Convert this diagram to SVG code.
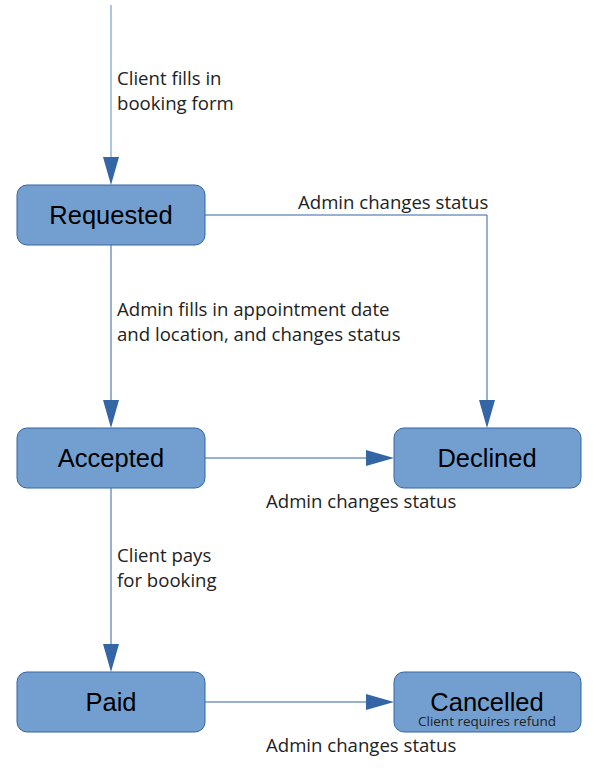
<svg xmlns="http://www.w3.org/2000/svg" width="600" height="768" viewBox="0 0 600 768">
<style>
.node{fill:#729fcf;stroke:#3465a4;stroke-width:1}
.nt{font-family:"Liberation Sans",Arial,sans-serif;font-size:25.5px;fill:#000;text-anchor:middle}
.lbl{font-family:"Open Sans","DejaVu Sans",sans-serif;font-size:18.6px;font-weight:500;fill:#222}
.sub{font-family:"Open Sans","DejaVu Sans",sans-serif;font-size:13.5px;fill:#222;text-anchor:middle}
.ln{fill:none;stroke:#3465a4;stroke-width:1}
.ln2{fill:none;stroke:#729fcf;stroke-width:1.2}
.ah{fill:#3465a4}
</style>
<rect width="600" height="768" fill="#fff"/>
<g id="connectors">
<line class="ln2" x1="111" y1="5" x2="111" y2="160"/>
<polygon class="ah" points="103,157 119,157 111,185"/>
<polyline class="ln" points="205,215 487,215 487,403"/>
<polygon class="ah" points="479,400 495,400 487,428"/>
<line class="ln" x1="111" y1="245" x2="111" y2="403"/>
<polygon class="ah" points="103,400 119,400 111,428"/>
<line class="ln" x1="205" y1="458" x2="368" y2="458"/>
<polygon class="ah" points="366,450 366,466 394,458"/>
<line class="ln" x1="111" y1="488" x2="111" y2="647"/>
<polygon class="ah" points="103,644 119,644 111,672"/>
<line class="ln" x1="205" y1="702" x2="368" y2="702"/>
<polygon class="ah" points="366,694 366,710 394,702"/>
<text class="lbl" x="117" y="85">Client fills in</text>
<text class="lbl" x="117" y="110">booking form</text>
<text class="lbl" x="298" y="209">Admin changes status</text>
<text class="lbl" x="117" y="316">Admin fills in appointment date</text>
<text class="lbl" x="117" y="341">and location, and changes status</text>
<text class="lbl" x="266" y="508">Admin changes status</text>
<text class="lbl" x="117" y="562">Client pays</text>
<text class="lbl" x="117" y="587">for booking</text>
<text class="lbl" x="266" y="752">Admin changes status</text>
</g>
<g id="requested"><rect class="node" x="17" y="185" width="188" height="60" rx="10"/><text class="nt" x="111" y="224">Requested</text></g>
<g id="accepted"><rect class="node" x="17" y="428" width="188" height="60" rx="10"/><text class="nt" x="111" y="467">Accepted</text></g>
<g id="paid"><rect class="node" x="17" y="672" width="188" height="60" rx="10"/><text class="nt" x="111" y="711">Paid</text></g>
<g id="declined"><rect class="node" x="394" y="428" width="187" height="60" rx="10"/><text class="nt" x="487" y="467">Declined</text></g>
<g id="cancelled"><rect class="node" x="394" y="672" width="187" height="60" rx="10"/><text class="nt" x="487" y="711">Cancelled</text><text class="sub" x="487" y="726">Client requires refund</text></g>
</svg>
